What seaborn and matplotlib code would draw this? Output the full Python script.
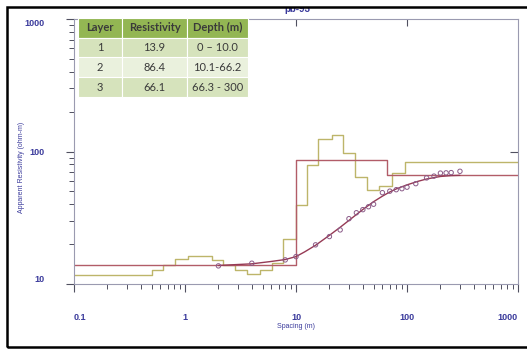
import matplotlib
matplotlib.use("Agg")
import matplotlib.pyplot as plt
import seaborn as sns
from matplotlib.patches import Rectangle
from matplotlib.ticker import FixedLocator, FixedFormatter, LogLocator, NullFormatter

# ---- inverted 3-layer model (table values) ----
layer_ids = ["1", "2", "3"]
layer_rho = [13.9, 86.4, 66.1]
layer_depth_labels = ["0 \u2013 10.0", "10.1-66.2", "66.3 - 300"]
layer_start = [0.1, 10.0, 66.2]          # spacing where each layer step begins
x_end = 1000.0

# ---- equivalent multi-layer (smoothed) model ----
smooth_start = [0.1, 0.501, 0.637, 0.813, 1.064, 1.74, 2.2, 2.82, 3.6, 4.74,
                6.04, 7.69, 10.0, 12.5, 15.8, 21.0, 26.5, 34.0, 43.6, 56.0,
                72.8, 96.0]
smooth_rho = [11.7, 12.8, 13.9, 15.4, 16.4, 15.2, 13.9, 12.8, 11.9, 12.8,
              14.4, 21.9, 39.6, 79.7, 125.0, 133.0, 96.6, 64.7, 51.5, 54.6,
              69.0, 83.5]

# ---- field measurements ----
obs_spacing = [2, 4, 8, 10, 15, 20, 25, 30, 35, 40, 45, 50, 60, 70, 80, 90,
               100, 120, 150, 175, 200, 225, 250, 300]
obs_rho = [13.7, 14.35, 15.2, 16.1, 19.75, 22.8, 25.6, 31.1, 34.5, 36.4, 38.3,
           40.0, 48.9, 50.2, 51.5, 52.4, 53.8, 57.2, 63.2, 65.2, 68.7, 69.0,
           69.3, 70.9]

# ---- calculated response of the model ----
calc_spacing = [2, 4, 6, 8, 10, 12, 15, 20, 25, 30, 40, 50, 60, 70, 80, 100,
                125, 150, 200, 250, 300]
calc_rho = [13.8, 14.2, 14.8, 15.3, 16.1, 17.5, 19.6, 23.3, 26.8, 30.2, 36.5,
            41.8, 46.0, 49.5, 52.2, 56.0, 59.5, 62.0, 64.8, 65.8, 66.1]

x_ticks = [0.1, 1, 10, 100, 1000]
x_tick_labels = ["0.1", "1", "10", "100", "1000"]
y_ticks = [10, 100, 1000]
y_tick_labels = ["10", "100", "1000"]

BLUE = "#3b3b9c"
RED = "#b25c68"
OLIVE = "#bdb56a"
CURVE = "#963a55"
SPINE = "#9a9ab0"
TICK = "#505060"

sns.set_style("white")
plt.rcParams["font.family"] = ["Liberation Sans Narrow", "Liberation Sans", "DejaVu Sans"]

fig = plt.figure(figsize=(5.27, 3.49), dpi=100)
ax = fig.add_axes([74 / 527, 65 / 349, 444 / 527, 265 / 349])

# step curves (steps-post needs the final level repeated at the right edge)
sns.lineplot(x=smooth_start + [x_end], y=smooth_rho + [smooth_rho[-1]],
             drawstyle="steps-post", estimator=None, sort=False,
             color=OLIVE, lw=1.0, ax=ax)
sns.lineplot(x=layer_start + [x_end], y=layer_rho + [layer_rho[-1]],
             drawstyle="steps-post", estimator=None, sort=False,
             color=RED, lw=1.0, ax=ax)
sns.lineplot(x=calc_spacing, y=calc_rho, estimator=None, sort=False,
             color=CURVE, lw=1.0, ax=ax)
sns.scatterplot(x=obs_spacing, y=obs_rho, marker="o", s=10,
                facecolor="none", edgecolor="#8a5a88", linewidth=0.7,
                ax=ax, zorder=5)

ax.set_xscale("log")
ax.set_yscale("log")
ax.set_xlim(0.1, 1000)
ax.set_ylim(10, 1000)

# axis frame
for side in ["left", "right", "top", "bottom"]:
    ax.spines[side].set_color(SPINE)
    ax.spines[side].set_linewidth(0.8)

ax.xaxis.set_major_locator(FixedLocator(x_ticks))
ax.xaxis.set_major_formatter(FixedFormatter(x_tick_labels))
ax.xaxis.set_minor_locator(LogLocator(base=10, subs=range(2, 10)))
ax.xaxis.set_minor_formatter(NullFormatter())
ax.yaxis.set_major_locator(FixedLocator(y_ticks))
ax.yaxis.set_major_formatter(FixedFormatter(y_tick_labels))
ax.yaxis.set_minor_locator(LogLocator(base=10, subs=range(2, 10)))
ax.yaxis.set_minor_formatter(NullFormatter())

ax.tick_params(axis="both", which="both", bottom=True, left=True,
               top=False, right=False)
ax.tick_params(axis="both", which="major", direction="out", length=6,
               width=0.8, color=TICK, labelcolor=BLUE, labelsize=6.5)
ax.tick_params(axis="both", which="minor", direction="out", length=3.5,
               width=0.7, color=TICK)
ax.tick_params(axis="x", which="major", pad=15)
ax.tick_params(axis="y", which="major", pad=15)
for lbl in ax.get_xticklabels() + ax.get_yticklabels():
    lbl.set_fontweight("bold")
xl = ax.get_xticklabels()
xl[0].set_horizontalalignment("left")
xl[-1].set_horizontalalignment("right")
yl = ax.get_yticklabels()
yl[0].set_verticalalignment("bottom")
yl[-1].set_verticalalignment("top")

# inward major ticks on the top and right edges
top = ax.secondary_xaxis("top")
top.xaxis.set_major_locator(FixedLocator([1, 10, 100]))
top.xaxis.set_major_formatter(NullFormatter())
top.xaxis.set_minor_locator(FixedLocator([]))
top.tick_params(top=True, direction="in", length=5, width=0.8, color=TICK)
top.spines["top"].set_visible(False)
right = ax.secondary_yaxis("right")
right.yaxis.set_major_locator(FixedLocator([100]))
right.yaxis.set_major_formatter(NullFormatter())
right.yaxis.set_minor_locator(FixedLocator([]))
right.tick_params(right=True, direction="in", length=6, width=0.8, color=TICK)
right.spines["right"].set_visible(False)

ax.set_xlabel("Spacing (m)", fontsize=5, color=BLUE, va="top")
ax.xaxis.set_label_coords(0.5, -0.147)
ax.set_ylabel("Apparent Resistivity (ohm-m)", fontsize=5, color=BLUE)
ax.yaxis.set_label_coords(-0.11, 0.44)

# layer table
tbl = ax.table(cellText=[[a, f"{b:.1f}", c] for a, b, c in
                         zip(layer_ids, layer_rho, layer_depth_labels)],
               colLabels=["Layer", "Resistivity", "Depth (m)"],
               cellLoc="center",
               colWidths=[44 / 170, 65 / 170, 61 / 170],
               bbox=[4 / 444, 187 / 265, 170 / 444, 79 / 265],
               zorder=6)
tbl.auto_set_font_size(False)
row_fill = ["#93b653", "#d6e3bc", "#eaf1dd", "#d6e3bc"]
for (r, c), cell in tbl.get_celld().items():
    cell.set_facecolor(row_fill[r])
    cell.set_edgecolor("white")
    cell.set_linewidth(0.8)
    txt = cell.get_text()
    txt.set_fontfamily(["Lato", "DejaVu Sans"])
    txt.set_fontsize(8)
    txt.set_color("#3a3a3a")
    if r == 0:
        txt.set_fontweight("bold")

# title, clipped by the outer frame
fig.text(297 / 527, 337 / 349, "pb-93", ha="center", va="baseline",
         fontsize=7, fontweight="bold", color=BLUE, zorder=3)
fig.patches.append(Rectangle((0, 342 / 349), 1, 7 / 349,
                             transform=fig.transFigure, facecolor="white",
                             edgecolor="none", zorder=20))
fig.patches.append(Rectangle((7 / 527, 2 / 349), 530 / 527, 340 / 349,
                             transform=fig.transFigure, facecolor="none",
                             edgecolor="black", linewidth=1.8, zorder=21))

fig.savefig("out.png", dpi=100)
